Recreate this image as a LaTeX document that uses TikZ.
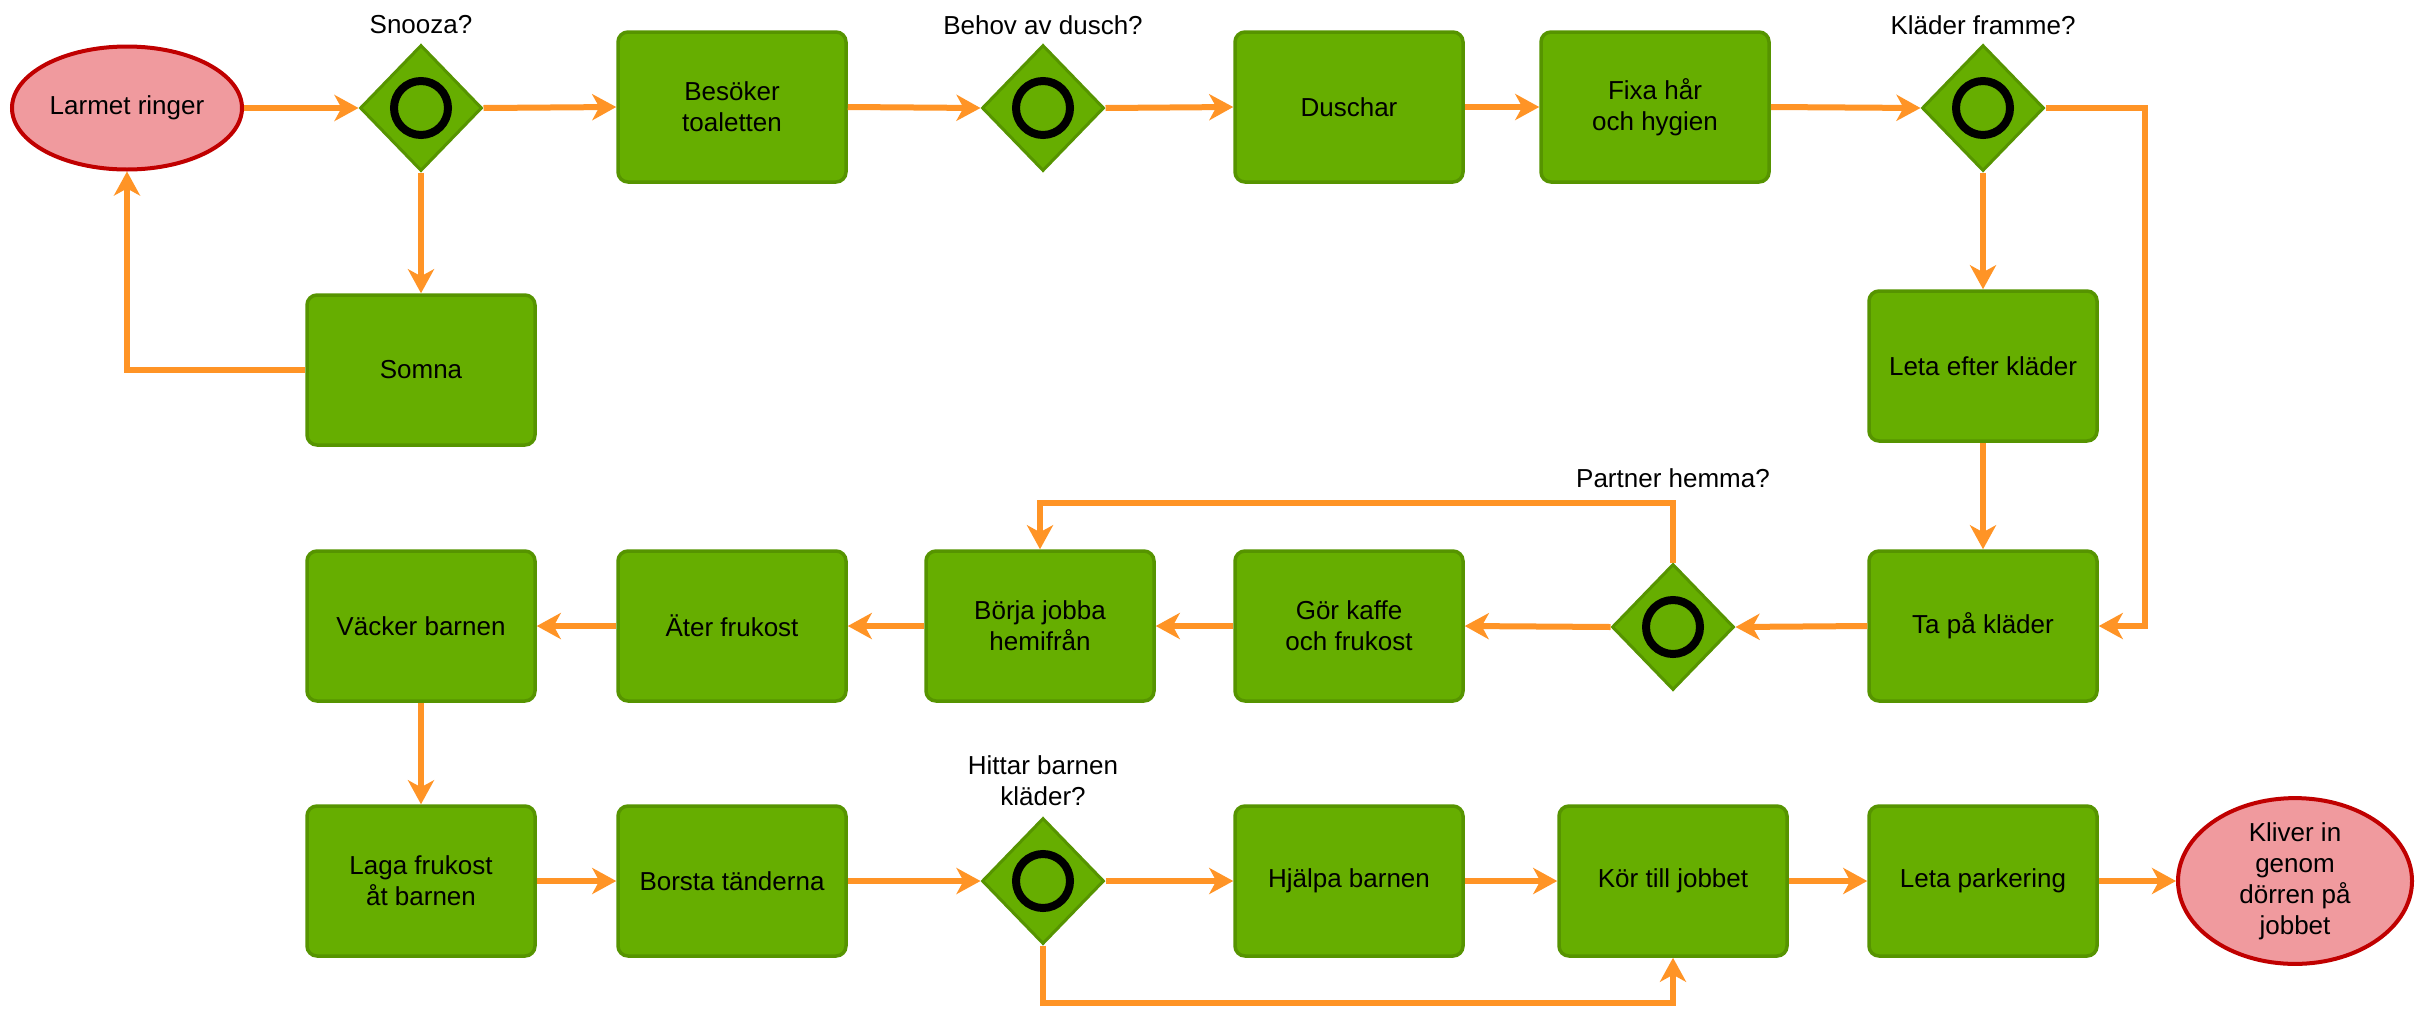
\documentclass[tikz,border=0pt]{standalone}
\usepackage{fontspec}
\setmainfont{Liberation Sans}
\usetikzlibrary{shapes.geometric,arrows.meta}
\definecolor{boxfill}{RGB}{102,174,0}
\definecolor{boxline}{RGB}{86,148,0}
\definecolor{flow}{RGB}{255,148,38}
\definecolor{endfill}{RGB}{240,154,158}
\definecolor{endline}{RGB}{192,0,0}
\tikzset{
  txt/.style={font=\fontsize{26}{31}\selectfont, align=center, text=black},
  stepbox/.style={txt, rectangle, rounded corners=10pt, draw=boxline, line width=3.5pt,
    fill=boxfill, minimum width=228pt, minimum height=150pt, inner sep=0pt},
  gate/.style={diamond, aspect=1, draw=boxline, line width=3pt, fill=boxfill,
    minimum width=122pt, minimum height=126pt, inner sep=0pt},
  terminal/.style={txt, ellipse, draw=endline, line width=4pt, fill=endfill, inner sep=0pt},
  question/.style={txt},
  flowline/.style={draw=flow, line width=6pt,
    -{Stealth[length=24pt,width=26pt,inset=7pt]}},
}
\newcommand{\gatering}[1]{\draw[line width=8pt] (#1.center) circle [radius=27pt];}
\begin{document}
\begin{tikzpicture}[x=1pt,y=-1pt]
\useasboundingbox (0,0) rectangle (2420,1010);
\fill[white] (0,0) rectangle (2420,1010);

% top row
\node[terminal, minimum width=230pt, minimum height=123pt] (larm) at (127,108) {Larmet ringer};
\node[gate] (snooza) at (421,108) {};
\node[question] (qsnooza) at (421,25) {Snooza?};
\node[stepbox] (toa) at (732,107) {Besöker\\toaletten};
\node[gate] (dusch) at (1043,108) {};
\node[question] (qdusch) at (1043,25) {Behov av dusch?};
\node[stepbox] (duschar) at (1349,107) {Duschar};
\node[stepbox] (har) at (1655,107) {Fixa hår\\och hygien};
\node[gate] (klader) at (1983,108) {};
\node[question] (qklader) at (1983,25) {Kläder framme?};

% second row
\node[stepbox] (somna) at (421,370) {Somna};
\node[stepbox] (leta) at (1983,366) {Leta efter kläder};

% third row
\node[stepbox] (vacker) at (421,626) {Väcker barnen};
\node[stepbox] (ater) at (732,626) {Äter frukost};
\node[stepbox] (borja) at (1040,626) {Börja jobba\\hemifrån};
\node[stepbox] (kaffe) at (1349,626) {Gör kaffe\\och frukost};
\node[gate] (partner) at (1673,627) {};
\node[question] (qpartner) at (1673,478) {Partner hemma?};
\node[stepbox] (tapa) at (1983,626) {Ta på kläder};

% bottom row
\node[stepbox] (laga) at (421,881) {Laga frukost\\åt barnen};
\node[stepbox] (borsta) at (732,881) {Borsta tänderna};
\node[gate] (hittar) at (1043,881) {};
\node[question] (qhittar) at (1043,781) {Hittar barnen\\kläder?};
\node[stepbox] (hjalpa) at (1349,881) {Hjälpa barnen};
\node[stepbox] (kor) at (1673,881) {Kör till jobbet};
\node[stepbox] (park) at (1983,881) {Leta parkering};
\node[terminal, minimum width=234pt, minimum height=150pt] (kliver) at (2295,881) {Kliver in\\genom\\dörren på\\jobbet};

% rings inside the gateways
\gatering{snooza}
\gatering{dusch}
\gatering{klader}
\gatering{partner}
\gatering{hittar}

% bend points
\coordinate (kr) at (2145,108);
\coordinate (pt) at (1673,503);
\coordinate (hb) at (1043,1003);

% connectors
\draw[flowline] (larm.east) -- (snooza.west);
\draw[flowline] (snooza.east) -- (toa.west);
\draw[flowline] (snooza.south) -- (somna.north);
\draw[flowline] (somna.west) -| (larm.south);
\draw[flowline] (toa.east) -- (dusch.west);
\draw[flowline] (dusch.east) -- (duschar.west);
\draw[flowline] (duschar.east) -- (har.west);
\draw[flowline] (har.east) -- (klader.west);
\draw[flowline] (klader.south) -- (leta.north);
\draw[flowline] (klader.east) -- (kr) |- (tapa.east);
\draw[flowline] (leta.south) -- (tapa.north);
\draw[flowline] (tapa.west) -- (partner.east);
\draw[flowline] (partner.west) -- (kaffe.east);
\draw[flowline] (partner.north) -- (pt) -| (borja.north);
\draw[flowline] (kaffe.west) -- (borja.east);
\draw[flowline] (borja.west) -- (ater.east);
\draw[flowline] (ater.west) -- (vacker.east);
\draw[flowline] (vacker.south) -- (laga.north);
\draw[flowline] (laga.east) -- (borsta.west);
\draw[flowline] (borsta.east) -- (hittar.west);
\draw[flowline] (hittar.east) -- (hjalpa.west);
\draw[flowline] (hjalpa.east) -- (kor.west);
\draw[flowline] (hittar.south) -- (hb) -| (kor.south);
\draw[flowline] (kor.east) -- (park.west);
\draw[flowline] (park.east) -- (kliver.west);
\end{tikzpicture}
\end{document}
